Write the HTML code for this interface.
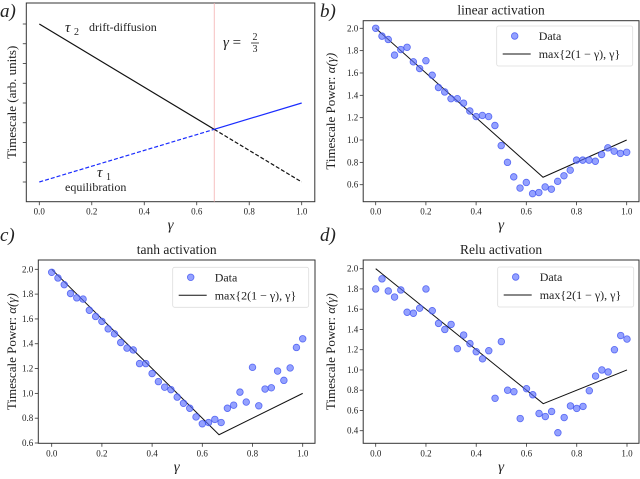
<!DOCTYPE html>
<html><head><meta charset="utf-8"><style>
body{margin:0;background:#fff}
svg text{font-family:"Liberation Serif",serif;fill:#222}
</style></head><body>
<svg id="fig" width="640" height="474" xmlns="http://www.w3.org/2000/svg"></svg>
<script>
const gammaTicks=[0,0.2,0.4,0.6,0.8,1.0];
const gammaTickLabels=["0.0","0.2","0.4","0.6","0.8","1.0"];
const gammas=[0,0.025,0.05,0.075,0.1,0.125,0.15,0.175,0.2,0.225,0.25,0.275,0.3,0.325,0.35,0.375,0.4,0.425,0.45,0.475,0.5,0.525,0.55,0.575,0.6,0.625,0.65,0.675,0.7,0.725,0.75,0.775,0.8,0.825,0.85,0.875,0.9,0.925,0.95,0.975,1.0];
const linearData=[2.0,1.93,1.90,1.76,1.81,1.83,1.70,1.64,1.71,1.58,1.47,1.43,1.37,1.37,1.33,1.26,1.21,1.22,1.21,1.13,0.95,0.80,0.67,0.57,0.62,0.52,0.53,0.58,0.56,0.63,0.68,0.73,0.82,0.82,0.82,0.81,0.87,0.93,0.90,0.88,0.89];
const tanhData=[1.976,1.93,1.876,1.805,1.77,1.76,1.67,1.62,1.58,1.52,1.48,1.41,1.365,1.35,1.24,1.24,1.16,1.095,1.05,1.03,0.97,0.92,0.88,0.81,0.755,0.765,0.79,0.765,0.88,0.905,1.01,0.93,1.21,0.90,1.035,1.045,1.18,1.105,1.205,1.37,1.44];
const reluData=[1.80,1.90,1.78,1.72,1.79,1.57,1.56,1.61,1.80,1.585,1.46,1.40,1.45,1.21,1.345,1.26,1.18,1.11,1.19,0.72,1.28,0.80,0.785,0.52,0.815,0.755,0.57,0.54,0.59,0.38,0.53,0.645,0.62,0.64,0.795,0.94,1.0,0.98,1.20,1.34,1.305];
const theoryGammas=[0,2/3,1];
const theoryValues=[2,2/3,1];
const bcTicks=[2.0,1.8,1.6,1.4,1.2,1.0,0.8,0.6];
const dTicks=[2.0,1.8,1.6,1.4,1.2,1.0,0.8,0.6,0.4];
const aTicks=[0,0.25,0.5,0.75,1,1.25,1.5,1.75,2];

const NS="http://www.w3.org/2000/svg";
const svg=document.getElementById('fig');
function mk(tag,attrs,parent,text){const e=document.createElementNS(NS,tag);for(const k in attrs)e.setAttribute(k,attrs[k]);if(text!==undefined)e.textContent=text;(parent||svg).appendChild(e);return e;}

function axes(p){
  const g=mk('g',{});
  
  
  const sx=v=>p.x0+(v-0)*(p.x1-p.x0);
  const sy=v=>p.ya+(v-p.va)*(p.yb-p.ya)/(p.vb-p.va);
  p.sx=sx;p.sy=sy;p.g=g;
  const fr=mk('rect',{x:p.L,y:p.T,width:p.R-p.L,height:p.B-p.T,fill:'none',stroke:'#333','stroke-width':1},g);
  
  
  gammaTicks.forEach((t,i)=>{
    const x=sx(t);
    const tk=mk('line',{x1:x,x2:x,y1:p.B,y2:p.B+3.5,stroke:'#333','stroke-width':0.8},g);
    
    
    const tl=mk('text',{x:x,y:p.B+13,'font-size':9,'text-anchor':'middle'},g,gammaTickLabels[i]);
    
    
  });
  p.yt.forEach(t=>{
    const y=sy(t);
    const tk=mk('line',{x1:p.L-3.5,x2:p.L,y1:y,y2:y,stroke:'#333','stroke-width':0.8},g);
    
    
    if(p.ylab){
      const tl=mk('text',{x:p.L-5,y:y+3,'font-size':9,'text-anchor':'end'},g,t.toFixed(1));
      
      
    }
  });
  const xl=mk('text',{x:(p.L+p.R)/2,y:p.B+28,'font-size':15,'font-style':'italic','text-anchor':'middle'},g,'γ');
  
  
  const yl=mk('text',{x:0,y:0,'font-size':13,'text-anchor':'middle',transform:`translate(${p.ylx},${(p.T+p.B)/2}) rotate(-90)`},g);
  
  
  if(p.ylab){yl.textContent='Timescale Power: ';const ts=mk('tspan',{'font-style':'italic'},yl,'α(γ)');}
  else yl.textContent='Timescale (arb. units)';
  const pl=mk('text',{x:p.plx,y:p.ply,'font-size':19,'font-style':'italic'},g,p.letter);
  
  
  if(p.title){
    const tt=mk('text',{x:(p.L+p.R)/2,y:p.T-6,'font-size':13.5,'text-anchor':'middle'},g,p.title);
    
    
  }
  return p;
}

function dataPanel(p,data){
  axes(p);
  const g=p.g;
  const pts=theoryGammas.map((t,i)=>p.sx(t)+','+p.sy(theoryValues[i])).join(' ');
  const ln=mk('polyline',{points:pts,fill:'none',stroke:'#111','stroke-width':1},g);
  
  
  data.forEach((v,i)=>{
    const c=mk('circle',{cx:p.sx(gammas[i]),cy:p.sy(v),r:3.3,fill:'rgba(90,110,255,0.65)',stroke:'rgba(60,80,240,0.8)','stroke-width':0.8},g);
    
    
  });
  const lx=p.lg[0],ly=p.lg[1];
  const lg=mk('g',{},g);
  
  
  mk('rect',{x:lx,y:ly,width:136,height:40,rx:2,fill:'#fff',stroke:'#ddd','stroke-width':0.8,'fill-opacity':0.85},lg);
  const e1=mk('circle',{cx:lx+18,cy:ly+10,r:3.3,fill:'rgba(90,110,255,0.65)',stroke:'rgba(60,80,240,0.8)','stroke-width':0.8},lg);
  
  
  mk('text',{x:lx+42,y:ly+14,'font-size':12},lg,'Data');
  const e2=mk('line',{x1:lx+6,x2:lx+34,y1:ly+28,y2:ly+28,stroke:'#111','stroke-width':1},lg);
  
  
  mk('text',{x:lx+42,y:ly+32,'font-size':12},lg,'max{2(1 − γ), γ}');
}

// Panel a
const pa=axes({name:'panel-a',L:26.3,R:314.8,T:3,B:201.7,x0:39.3,x1:301.7,ya:182,yb:24,va:0,vb:2,yt:aTicks,ylab:false,ylx:16,plx:0,ply:17,letter:'a)'});
(function(){
  const g=pa.g,sx=pa.sx,sy=pa.sy,gc=2/3;
  const v=mk('line',{x1:sx(gc),x2:sx(gc),y1:pa.T,y2:pa.B,stroke:'#f4b0b0','stroke-width':0.8},g);
  
  
  const t2a=mk('line',{x1:sx(0),y1:sy(2),x2:sx(gc),y2:sy(2*(1-gc)),stroke:'#111','stroke-width':1.2},g);
  
  
  const t2b=mk('line',{x1:sx(gc),y1:sy(2*(1-gc)),x2:sx(1),y2:sy(0),stroke:'#111','stroke-width':1.2,'stroke-dasharray':'4,2'},g);
  
  
  const t1a=mk('line',{x1:sx(0),y1:sy(0),x2:sx(gc),y2:sy(gc),stroke:'#1a2cff','stroke-width':1.2,'stroke-dasharray':'4,2'},g);
  
  
  const t1b=mk('line',{x1:sx(gc),y1:sy(gc),x2:sx(1),y2:sy(1),stroke:'#1a2cff','stroke-width':1.2},g);
  
  
  const a1=mk('text',{x:65,y:32,'font-size':15,'font-style':'italic'},g,'τ');
  
  
  mk('text',{x:74,y:35,'font-size':10},g,'2');
  mk('text',{x:89,y:31,'font-size':12},g,'drift-diffusion');
  const a2=mk('text',{x:97,y:177,'font-size':15,'font-style':'italic'},g,'τ');
  
  
  mk('text',{x:106,y:180,'font-size':10},g,'1');
  mk('text',{x:65,y:191,'font-size':12},g,'equilibration');
  const a3=mk('text',{x:223,y:47,'font-size':15},g);
  
  
  mk('tspan',{'font-style':'italic'},a3,'γ');
  mk('tspan',{},a3,' =');
  mk('text',{x:255,y:40,'font-size':10,'text-anchor':'middle'},g,'2');
  mk('line',{x1:251,x2:259,y1:43,y2:43,stroke:'#222','stroke-width':0.8},g);
  mk('text',{x:255,y:52,'font-size':10,'text-anchor':'middle'},g,'3');
})();

dataPanel({name:'panel-b-linear',L:363.2,R:639,T:20.7,B:201.7,x0:375.7,x1:626.7,ya:28.3,yb:184.7,va:2.0,vb:0.6,yt:bcTicks,ylab:true,ylx:335,plx:320,ply:17,letter:'b)',title:'linear activation',lg:[496.7,26]},linearData);
dataPanel({name:'panel-c-tanh',L:38.3,R:315,T:260,B:443.3,x0:51.7,x1:302.7,ya:269.3,yb:443,va:2.0,vb:0.6,yt:bcTicks,ylab:true,ylx:16,plx:0,ply:241,letter:'c)',title:'tanh activation',lg:[172.7,267.3]},tanhData);
dataPanel({name:'panel-d-relu',L:363.2,R:639,T:260,B:443.3,x0:375.7,x1:627,ya:268.7,yb:430.7,va:2.0,vb:0.4,yt:dTicks,ylab:true,ylx:335,plx:320,ply:241,letter:'d)',title:'Relu activation',lg:[497.7,267]},reluData);
</script>
</body></html>
